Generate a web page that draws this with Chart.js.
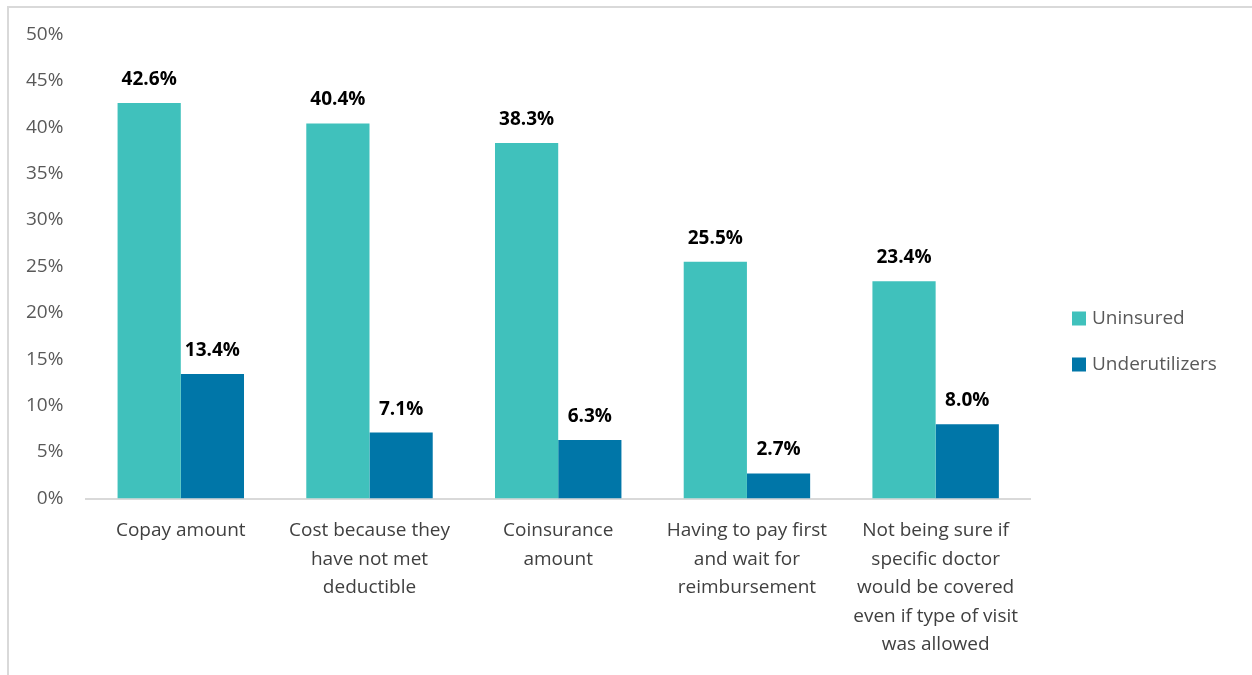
<!DOCTYPE html>
<html>
<head>
<meta charset="utf-8">
<script src="https://cdn.jsdelivr.net/npm/chart.js@4.4.1/dist/chart.umd.min.js"></script>
<style>
  html, body { margin: 0; padding: 0; background: #fff; }
  #frame {
    position: absolute; left: 7px; top: 6px; width: 1245px; height: 669px;
    border-left: 2px solid #d9d9d9; border-top: 2px solid #d9d9d9;
  }
  #wrap { position: absolute; left: 0; top: 0; width: 1243px; height: 667px; }
</style>
</head>
<body>
<div id="frame"><div id="wrap"><canvas id="chart"></canvas></div></div>
<script>
const categories = [
  'Copay amount',
  ['Cost because they', 'have not met', 'deductible'],
  ['Coinsurance', 'amount'],
  ['Having to pay first', 'and wait for', 'reimbursement'],
  ['Not being sure if', 'specific doctor', 'would be covered', 'even if type of visit', 'was allowed']
]
const uninsured = [42.6, 40.4, 38.3, 25.5, 23.4]
const underutilizers = [13.4, 7.1, 6.3, 2.7, 8.0]

const fontFamily = "'Open Sans', 'Liberation Sans', sans-serif"

// draws the bold value labels above each bar
const valueLabels = {
  id: 'valueLabels',
  afterDatasetsDraw (chart) {
    const ctx = chart.ctx
    ctx.save()
    ctx.font = 'bold 19px ' + fontFamily
    ctx.fillStyle = '#000'
    ctx.textAlign = 'center'
    ctx.textBaseline = 'bottom'
    chart.data.datasets.forEach((ds, i) => {
      chart.getDatasetMeta(i).data.forEach((bar, j) => {
        ctx.fillText(ds.data[j].toFixed(1) + '%', bar.x, bar.y - 14)
      })
    })
    ctx.restore()
  }
}

// legend on the right, drawn by hand so the gap to the plot matches Excel
const sideLegend = {
  id: 'sideLegend',
  afterDraw (chart) {
    const ctx = chart.ctx
    const x = chart.chartArea.right + 42
    const n = chart.data.datasets.length
    const step = 46
    ctx.save()
    ctx.font = '19px ' + fontFamily
    ctx.textBaseline = 'middle'
    chart.data.datasets.forEach((ds, i) => {
      const y = chart.height / 2 + (i - (n - 1) / 2) * step
      ctx.fillStyle = ds.backgroundColor
      ctx.fillRect(x, y - 7, 14, 14)
      ctx.fillStyle = '#595959'
      ctx.fillText(ds.label, x + 20, y)
    })
    ctx.restore()
  }
}

new Chart(document.getElementById('chart'), {
  type: 'bar',
  data: {
    labels: categories,
    datasets: [
      { label: 'Uninsured', data: uninsured, backgroundColor: '#40c1bc' },
      { label: 'Underutilizers', data: underutilizers, backgroundColor: '#0076a8' }
    ]
  },
  options: {
    responsive: true,
    maintainAspectRatio: false,
    animation: false,
    layout: { padding: { top: 6, right: 222, left: 2, bottom: 6 } },
    datasets: { bar: { categoryPercentage: 0.67, barPercentage: 1 } },
    scales: {
      x: {
        grid: { display: false },
        border: { display: true, color: '#d9d9d9', width: 2 },
        ticks: { color: '#404040', font: { size: 19, family: fontFamily, lineHeight: 1.5 }, maxRotation: 0, padding: 10 }
      },
      y: {
        min: 0,
        max: 50,
        grid: { display: false },
        border: { display: false },
        ticks: {
          stepSize: 5,
          color: '#595959',
          padding: 15,
          font: { size: 19, family: fontFamily },
          callback: v => v + '%'
        }
      }
    },
    plugins: {
      legend: { display: false },
      tooltip: { enabled: false }
    }
  },
  plugins: [valueLabels, sideLegend]
})
</script>
</body>
</html>
